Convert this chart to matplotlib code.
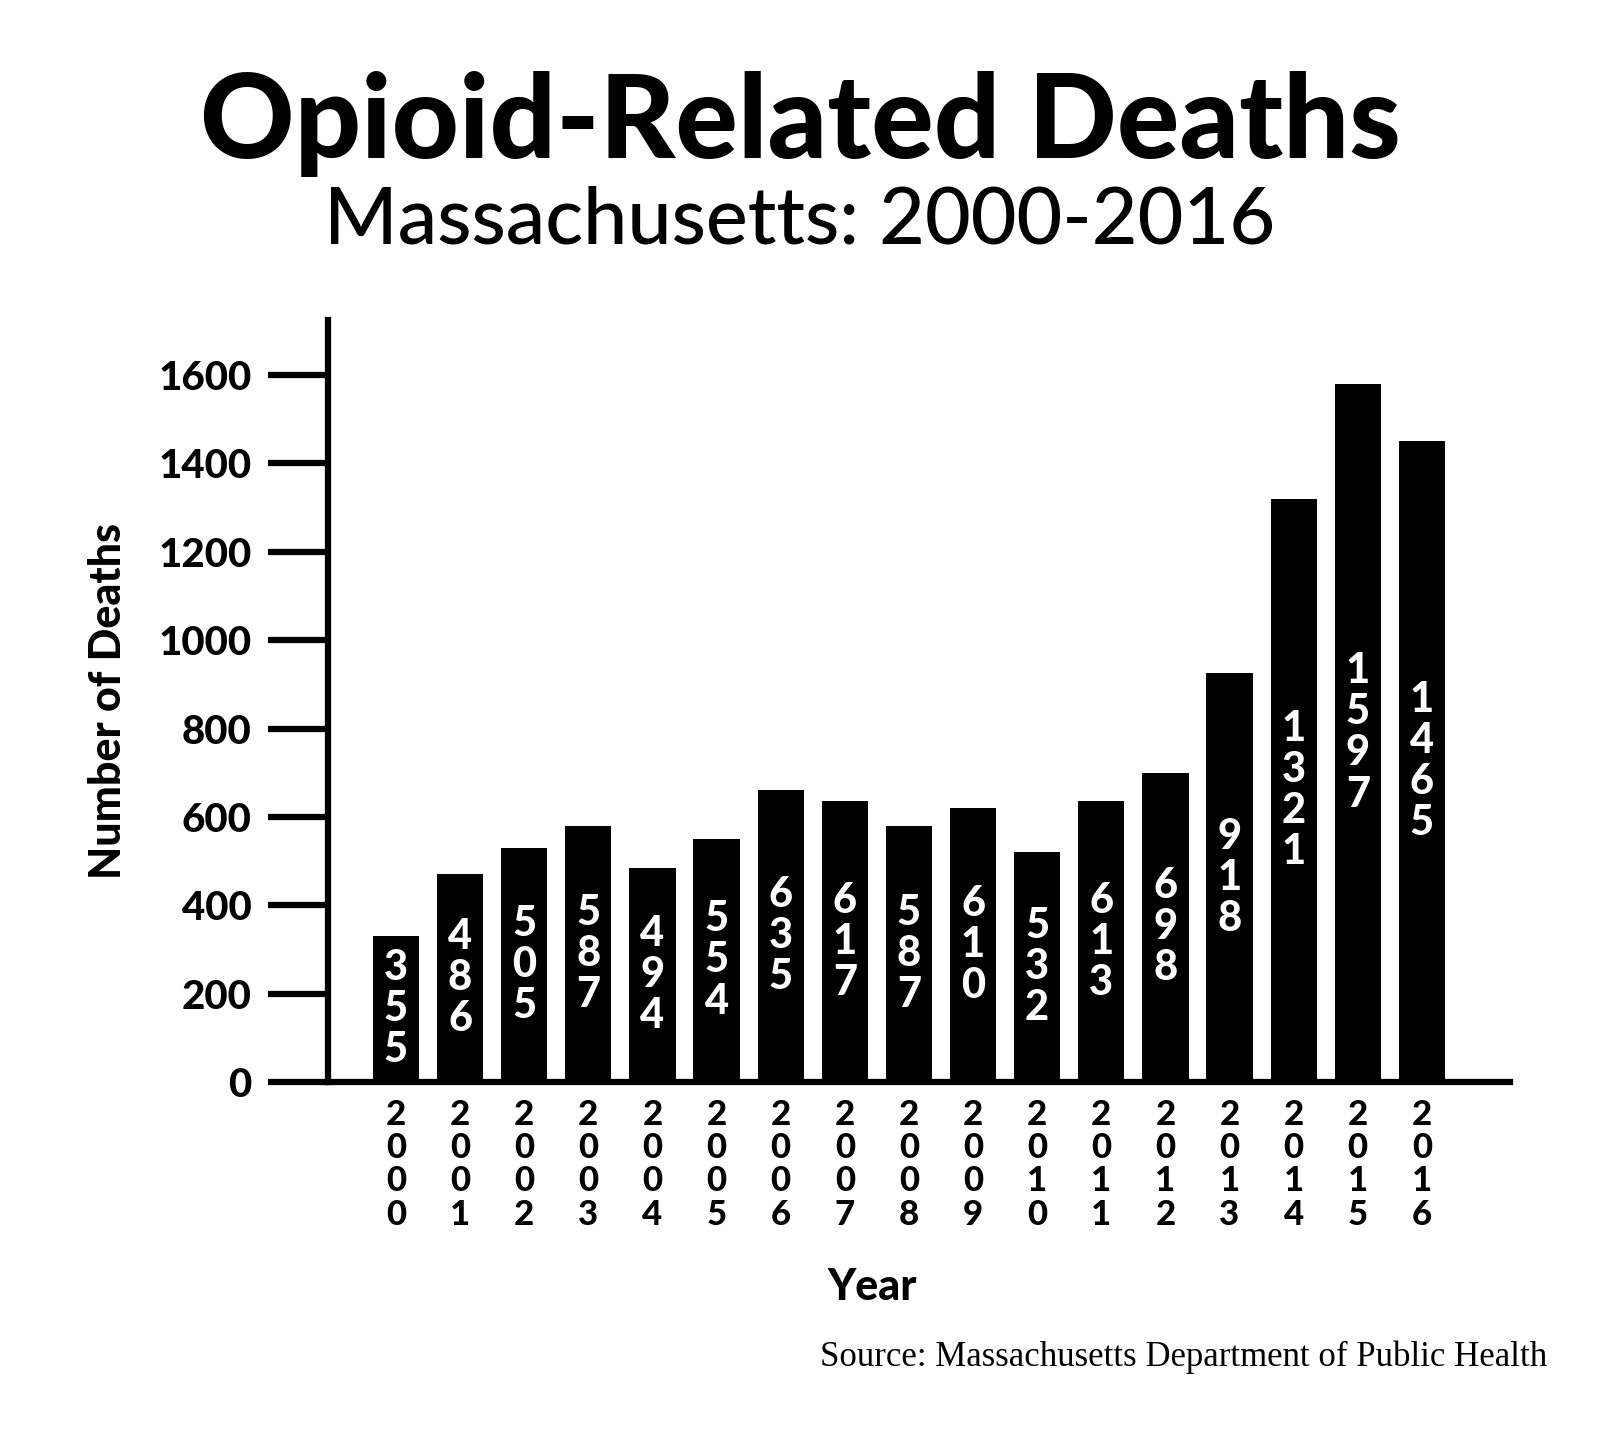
import matplotlib
matplotlib.use("Agg")
import matplotlib.pyplot as plt

years = [str(y) for y in range(2000, 2017)]
bar_heights = [330, 470, 530, 580, 485, 550, 660, 635, 580, 620, 520, 635, 700, 925, 1320, 1580, 1450]
bar_labels = ["355", "486", "505", "587", "494", "554", "635", "617", "587", "610",
              "532", "613", "698", "918", "1321", "1597", "1465"]
yticks = [0, 200, 400, 600, 800, 1000, 1200, 1400, 1600]

FONT = "Lato"
HEAVY = "black"
fig = plt.figure(figsize=(16, 14.3), dpi=100)
ax = fig.add_axes([0.205, 0.2434, 0.739, 0.5326])

x = list(range(len(years)))
ax.bar(x, bar_heights, width=0.72, color="black")
for xi, h, lab in zip(x, bar_heights, bar_labels):
    ax.text(xi, h / 2, "\n".join(lab), ha="center", va="center", color="white",
            fontsize=30, fontweight=HEAVY, family=FONT, linespacing=1.1)

ax.set_xlim(-1.06, 17.38)
ax.set_ylim(0, 1724)
ax.set_xticks([])
ax.set_yticks(yticks)
ax.set_yticklabels([str(t) for t in yticks], fontsize=29, fontweight=HEAVY, family=FONT)
ax.tick_params(axis="y", length=43, width=4.5, pad=12)
for s in ["top", "right"]:
    ax.spines[s].set_visible(False)
for s in ["left", "bottom"]:
    ax.spines[s].set_linewidth(4.5)

for xi, y in zip(x, years):
    ax.annotate("\n".join(y), (xi, 0), xytext=(0, -12), textcoords="offset points",
                ha="center", va="top", fontsize=25, fontweight=HEAVY, family=FONT,
                linespacing=1.05)

ax.set_ylabel("Number of Deaths", fontsize=31, fontweight=HEAVY, family=FONT, labelpad=22)
fig.text(0.545, 0.1, "Year", ha="center", va="center", fontsize=31, fontweight=HEAVY, family=FONT)

fig.text(0.5, 0.913, "Opioid-Related Deaths", ha="center", va="center",
         fontsize=84, fontweight=HEAVY, family=FONT)
fig.text(0.5, 0.845, "Massachusetts: 2000-2016", ha="center", va="center",
         fontsize=57, fontweight="medium", family=FONT)
fig.text(0.967, 0.051, "Source: Massachusetts Department of Public Health", ha="right",
         va="center", fontsize=25, family="Liberation Serif")

fig.savefig("out.png", dpi=100)
